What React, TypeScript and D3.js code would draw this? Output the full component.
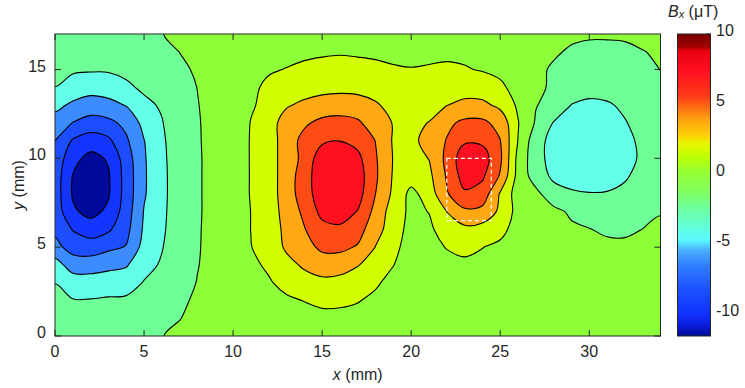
import React, { useEffect, useRef } from 'react'
import * as d3 from 'd3'

// Bx field on a 1 mm grid: x = 0..34 mm (columns), y = 17..0 mm (rows, top first)
const gridX = 35
const gridY = 18
const bxRows = [
  [-1.1, -1.15, -1.2, -1.2, -1.1, -0.8, -0.05, 0.4, 0.7, 0.8, 0.9, 1.0, 1.1, 1.2, 1.3, 1.35, 1.4, 1.35, 1.3, 1.25, 1.2, 1.25, 1.3, 1.3, 1.2, 1.0, 0.8, 0.55, 0.4, 0.3, 0.25, 0.25, 0.3, 0.4, 0.5],
  [-1.3, -1.4, -1.4, -1.4, -1.3, -1.2, -0.5, 0.02, 0.5, 0.8, 1.0, 1.2, 1.4, 1.6, 1.75, 1.85, 1.9, 1.85, 1.8, 1.7, 1.65, 1.7, 1.75, 1.7, 1.55, 1.3, 0.9, 0.5, 0.2, -0.2, -0.5, -0.5, -0.4, -0.05, 0.2],
  [-1.6, -1.8, -1.8, -1.8, -1.6, -1.4, -1.1, -0.3, 0.2, 0.6, 0.95, 1.3, 1.85, 2.05, 2.25, 2.35, 2.4, 2.35, 2.25, 2.12, 2.05, 2.12, 2.2, 2.1, 1.9, 1.5, 1.0, 0.35, -0.2, -0.6, -0.8, -0.8, -0.7, -0.45, 0.02],
  [-2.02, -2.6, -3.2, -3.0, -2.3, -1.7, -1.4, -0.5, 0.02, 0.5, 0.9, 1.7, 2.3, 2.7, 3.1, 3.4, 3.5, 3.4, 3.1, 2.8, 2.6, 2.7, 3.0, 3.1, 2.8, 2.4, 1.2, 0.4, -0.3, -0.9, -1.3, -1.3, -1.1, -0.7, -0.3],
  [-3.4, -4.4, -4.9, -4.6, -3.9, -2.4, -1.8, -0.65, -0.05, 0.5, 1.0, 1.85, 2.4, 3.8, 4.4, 4.8, 4.95, 4.85, 4.25, 3.3, 2.9, 3.3, 3.95, 4.5, 4.5, 3.5, 1.7, 0.08, -0.6, -2.05, -2.4, -2.2, -1.7, -1.1, -0.7],
  [-5.0, -6.05, -6.8, -6.5, -5.5, -3.4, -2.1, -0.8, -0.1, 0.45, 1.0, 2.05, 3.1, 4.9, 5.7, 6.5, 6.7, 6.3, 5.0, 3.9, 3.6, 4.05, 5.6, 6.4, 6.4, 5.4, 2.1, -0.2, -2.1, -2.7, -3.0, -2.9, -2.1, -1.4, -0.9],
  [-6.0, -8.2, -9.0, -8.4, -6.3, -4.05, -2.3, -0.9, -0.12, 0.45, 1.0, 2.1, 3.0, 5.0, 6.6, 7.6, 7.95, 7.4, 5.95, 3.8, 3.5, 4.7, 6.1, 7.7, 7.6, 6.05, 1.95, -1.2, -2.7, -3.0, -3.2, -3.1, -2.5, -1.6, -1.0],
  [-6.6, -9.4, -10.6, -9.8, -7.0, -4.2, -2.4, -0.95, -0.15, 0.45, 1.0, 2.1, 3.0, 5.0, 6.5, 9.3, 9.6, 8.5, 6.2, 3.9, 3.3, 4.05, 6.5, 9.3, 9.0, 6.4, 1.4, -1.2, -2.8, -3.1, -3.3, -3.2, -2.6, -1.7, -1.1],
  [-6.9, -10.1, -11.4, -10.2, -7.2, -4.25, -2.45, -1.0, -0.15, 0.45, 0.95, 2.1, 3.0, 5.0, 7.0, 9.4, 9.9, 9.0, 6.3, 3.8, 2.9, 3.5, 6.2, 8.9, 8.3, 5.8, 1.3, -0.9, -2.4, -2.9, -3.1, -2.9, -2.2, -1.4, -1.0],
  [-6.9, -10.2, -11.4, -10.2, -7.2, -4.2, -2.45, -1.0, -0.15, 0.45, 0.95, 2.1, 3.0, 5.0, 7.0, 9.2, 9.7, 8.8, 6.0, 3.6, 1.44, 2.9, 5.8, 7.7, 7.2, 3.8, 1.0, 0.5, -1.2, -1.7, -1.9, -1.85, -1.6, -1.2, -0.9],
  [-6.8, -9.7, -10.6, -9.6, -7.0, -3.9, -2.4, -0.95, -0.15, 0.45, 0.95, 2.02, 2.9, 4.8, 6.4, 8.6, 9.0, 7.9, 5.4, 3.0, 1.57, 2.05, 4.02, 5.6, 5.4, 3.6, 1.3, 0.8, 0.5, -0.3, -0.7, -0.8, -0.8, -0.5, -0.12],
  [-6.5, -8.1, -9.0, -8.3, -6.6, -3.7, -2.3, -0.9, -0.12, 0.45, 0.95, 2.02, 2.9, 4.5, 5.9, 7.3, 7.6, 6.9, 4.6, 3.2, 1.13, 1.6, 3.0, 3.5, 3.2, 2.7, 1.0, 0.8, 0.6, 0.3, 0.05, -0.25, -0.3, 0.02, 0.4],
  [-5.4, -6.8, -7.0, -6.4, -5.9, -3.3, -2.1, -0.8, -0.1, 0.45, 0.9, 1.95, 2.8, 4.3, 5.3, 6.4, 6.5, 5.8, 3.95, 2.6, 1.0, 1.3, 2.1, 2.6, 2.05, 1.5, 1.1, 0.9, 0.75, 0.6, 0.45, 0.35, 0.35, 0.45, 0.6],
  [-3.2, -4.9, -5.0, -4.6, -4.2, -2.6, -1.8, -0.7, -0.05, 0.45, 0.85, 1.6, 2.3, 3.4, 4.3, 5.0, 4.8, 4.1, 3.2, 2.05, 0.9, 1.0, 1.3, 1.5, 1.4, 1.2, 1.0, 0.9, 0.8, 0.7, 0.65, 0.6, 0.6, 0.65, 0.7],
  [-2.02, -3.0, -3.0, -2.8, -2.8, -1.9, -1.4, -0.55, 0.05, 0.5, 0.8, 1.3, 1.8, 2.6, 3.2, 3.5, 3.4, 2.9, 2.25, 1.4, 0.9, 0.95, 1.1, 1.2, 1.15, 1.05, 0.95, 0.85, 0.8, 0.75, 0.7, 0.7, 0.7, 0.7, 0.75],
  [-1.7, -1.9, -1.9, -1.8, -1.7, -1.5, -1.1, -0.35, 0.3, 0.6, 0.75, 1.0, 1.4, 1.7, 2.05, 2.4, 2.35, 2.1, 1.6, 1.2, 0.95, 0.95, 1.0, 1.05, 1.05, 1.0, 0.95, 0.9, 0.85, 0.8, 0.75, 0.75, 0.75, 0.75, 0.8],
  [-1.3, -1.4, -1.4, -1.4, -1.3, -1.2, -0.5, -0.05, 0.5, 0.65, 0.75, 0.85, 1.0, 1.2, 1.4, 1.5, 1.5, 1.4, 1.2, 1.05, 0.95, 0.9, 0.9, 0.9, 0.9, 0.9, 0.85, 0.85, 0.8, 0.8, 0.8, 0.8, 0.8, 0.8, 0.8],
  [-1.0, -1.1, -1.1, -1.1, -1.0, -0.9, -0.05, 0.35, 0.7, 0.7, 0.75, 0.8, 0.85, 0.95, 1.05, 1.1, 1.1, 1.05, 0.95, 0.9, 0.85, 0.85, 0.85, 0.85, 0.85, 0.8, 0.8, 0.8, 0.75, 0.75, 0.75, 0.75, 0.75, 0.75, 0.75]
]

const levels = [-10, -8, -6, -4, -2, 0, 2, 4, 6, 8]
// fill of each band, lowest band first
const bandColors = ['#00099a', '#1434ff', '#1c4eff', '#3c8cff', '#64ffe8', '#6eff96', '#8cff38', '#d2ff00', '#ffa814', '#ff4c14', '#ff1020']

// colour bar
const cbDomain = [-11.6, 10]
const cmapValues = [-11.6, -11.0, -10.1, -8.3, -6.5, -5.46, -4.75, -4.0, -2.6, -1.19, 0.23, 1.3, 2.16, 2.87, 3.93, 4.86, 5.57, 7.35, 8.8, 9.1, 10]
const cmapColors = ['#000a90', '#0818d0', '#1030ff', '#1c50ff', '#3080ff', '#48b0ff', '#58f8ff', '#60ffe4', '#6cffa4', '#80ff5c', '#98ff30', '#c0ff00', '#e8f400', '#ffcc08', '#ffa010', '#ff6614', '#ff3a18', '#ff1020', '#e80010', '#a00000', '#7a0000']

const xTicks = [0, 5, 10, 15, 20, 25, 30]
const yTicks = [0, 5, 10, 15]
const cbTicks = [-10, -5, 0, 5, 10]
const xDomain = [0, 34]
const yDomain = [0, 17]

// dashed region (mm)
const boxX = [22, 24.5]
const boxY = [6.5, 10]

const font = '"Liberation Sans", Arial, Helvetica, sans-serif'
const ink = '#262626'

const App = () => {
  const ref = useRef<SVGSVGElement>(null)

  useEffect(() => {
    const svg = d3.select(ref.current)
    svg.selectAll('*').remove()

    const left = 55, right = 660.5, top = 34, bottom = 336
    const x = d3.scaleLinear().domain(xDomain).range([left, right])
    const y = d3.scaleLinear().domain(yDomain).range([bottom, top])

    const values = bxRows.flat()
    const contours = d3.contours().size([gridX, gridY]).thresholds(levels)(values)

    // grid point i sits at contour coordinate i + 0.5
    const px = (c: number) => x(c - 0.5)
    const py = (c: number) => y(gridY - 0.5 - c)
    const line = d3.line().curve(d3.curveCatmullRomClosed.alpha(0.5))
    const ringPath = (ring: number[][]) =>
      line(ring.slice(0, -1).map(p => [px(p[0]), py(p[1])]) as [number, number][]) || ''
    const multiPath = (mp: any) =>
      mp.coordinates.map((poly: number[][][]) => poly.map(ringPath).join('')).join('')

    const defs = svg.append('defs')
    defs.append('clipPath').attr('id', 'plotclip')
      .append('rect').attr('x', left).attr('y', top)
      .attr('width', right - left).attr('height', bottom - top)

    const plot = svg.append('g').attr('clip-path', 'url(#plotclip)')
    plot.append('rect').attr('x', left).attr('y', top)
      .attr('width', right - left).attr('height', bottom - top)
      .attr('fill', bandColors[0])

    plot.selectAll('path.band').data(contours).enter().append('path')
      .attr('class', 'band')
      .attr('d', d => multiPath(d))
      .attr('fill', (d, i) => bandColors[i + 1])
      .attr('fill-rule', 'evenodd')
      .attr('stroke', 'none')

    plot.selectAll('path.iso').data(contours).enter().append('path')
      .attr('class', 'iso')
      .attr('d', d => multiPath(d))
      .attr('fill', 'none')
      .attr('stroke', '#000')
      .attr('stroke-width', 1.1)

    plot.append('rect')
      .attr('x', x(boxX[0])).attr('y', y(boxY[1]))
      .attr('width', x(boxX[1]) - x(boxX[0])).attr('height', y(boxY[0]) - y(boxY[1]))
      .attr('fill', 'none').attr('stroke', '#fff').attr('stroke-width', 1.2)
      .attr('stroke-dasharray', '4,3')

    // frame and ticks
    svg.append('rect').attr('x', left).attr('y', top)
      .attr('width', right - left).attr('height', bottom - top)
      .attr('fill', 'none').attr('stroke', ink).attr('stroke-width', 1)

    const tl = 6
    const axes = svg.append('g').attr('stroke', ink).attr('stroke-width', 1)
    xTicks.forEach(t => {
      axes.append('line').attr('x1', x(t)).attr('x2', x(t)).attr('y1', bottom).attr('y2', bottom - tl)
      axes.append('line').attr('x1', x(t)).attr('x2', x(t)).attr('y1', top).attr('y2', top + tl)
    })
    yTicks.forEach(t => {
      axes.append('line').attr('x1', left).attr('x2', left + tl).attr('y1', y(t)).attr('y2', y(t))
      axes.append('line').attr('x1', right).attr('x2', right - tl).attr('y1', y(t)).attr('y2', y(t))
    })

    const labels = svg.append('g').attr('font-family', font).attr('font-size', 16).attr('fill', ink)
    labels.selectAll('text.xt').data(xTicks).enter().append('text')
      .attr('x', d => x(d)).attr('y', 357).attr('text-anchor', 'middle').text(d => d)
    labels.selectAll('text.yt').data(yTicks).enter().append('text')
      .attr('x', 46).attr('y', d => y(d) + 2).attr('text-anchor', 'end').text(d => d)

    const xl = labels.append('text').attr('x', (left + right) / 2).attr('y', 380).attr('text-anchor', 'middle')
    xl.append('tspan').attr('font-style', 'italic').text('x')
    xl.append('tspan').text(' (mm)')
    const yl = labels.append('text').attr('transform', 'translate(24,185) rotate(-90)').attr('text-anchor', 'middle')
    yl.append('tspan').attr('font-style', 'italic').text('y')
    yl.append('tspan').text(' (mm)')

    // colour bar
    const cbL = 677.5, cbR = 710.5
    const c = d3.scaleLinear().domain(cbDomain).range([bottom, top])
    const off = d3.scaleLinear().domain(cbDomain).range([0, 1])
    const grad = defs.append('linearGradient').attr('id', 'cbgrad')
      .attr('x1', 0).attr('y1', 1).attr('x2', 0).attr('y2', 0)
    cmapValues.forEach((v, i) => {
      grad.append('stop').attr('offset', off(v)).attr('stop-color', cmapColors[i])
    })
    svg.append('rect').attr('x', cbL).attr('y', top)
      .attr('width', cbR - cbL).attr('height', bottom - top)
      .attr('fill', 'url(#cbgrad)').attr('stroke', ink).attr('stroke-width', 1)
    cbTicks.forEach(t => {
      axes.append('line').attr('x1', cbR).attr('x2', cbR - 4).attr('y1', c(t)).attr('y2', c(t))
    })
    labels.selectAll('text.ct').data(cbTicks).enter().append('text')
      .attr('x', 716).attr('y', d => c(d) + 2).attr('text-anchor', 'start').text(d => d)

    const title = labels.append('text').attr('x', 668).attr('y', 17)
    title.append('tspan').attr('font-style', 'italic').text('B')
    title.append('tspan').attr('font-style', 'italic').attr('font-size', 11).attr('dy', 1).text('x')
    title.append('tspan').attr('dy', -1).text(' (μT)')
  }, [])

  return (
    <svg ref={ref} width={745} height={388}
      style={{ position: 'absolute', left: 0, top: 0, background: '#fff' }} />
  )
}

export default App
